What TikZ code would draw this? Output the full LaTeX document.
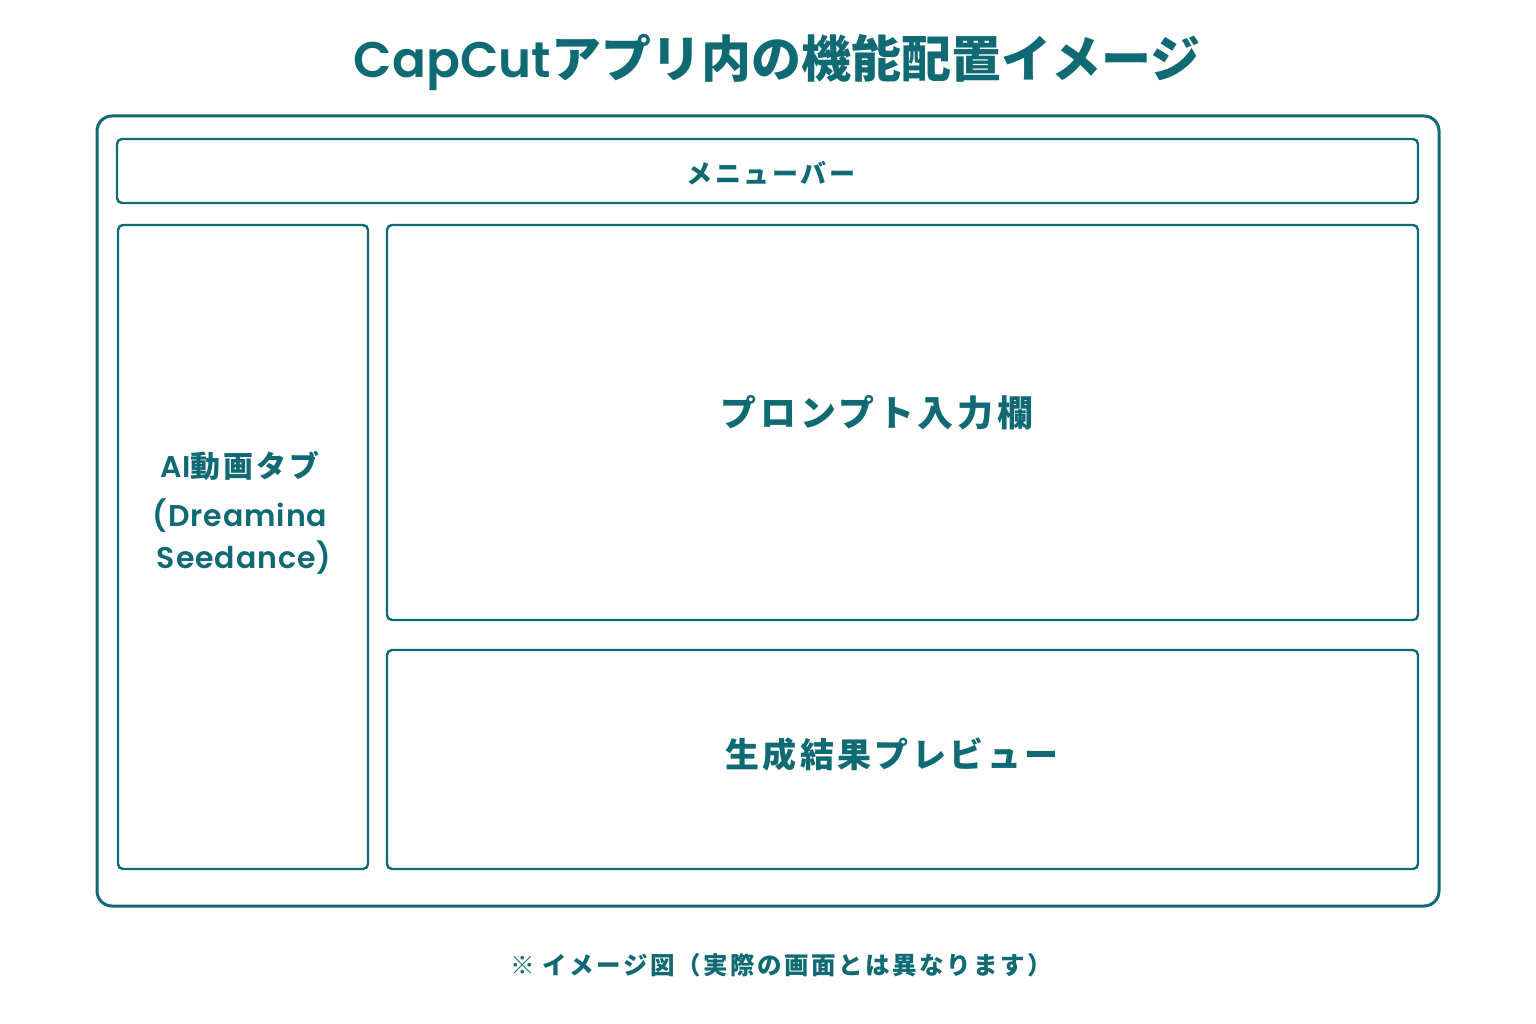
\documentclass[tikz,border=0pt]{standalone}
\usepackage{fontspec}
\setmainfont{Noto Sans CJK JP}
\newfontfamily\jpsp{Noto Sans CJK JP}[LetterSpace=10]
\newfontfamily\lat{Poppins}[BoldFont={Poppins SemiBold}]
\newfontfamily\latsp{Poppins}[LetterSpace=3, BoldFont={Poppins SemiBold}]
\usetikzlibrary{positioning}

\definecolor{teal}{RGB}{16,106,115}

\tikzset{
	frame/.style={draw=teal, line width=3pt, rounded corners=15pt},
	panel/.style={draw=teal, line width=2.4pt, rounded corners=5pt},
	label/.style={text=teal, inner sep=0pt, align=center},
}

\begin{document}
\begin{tikzpicture}[x=1pt,y=-1pt]
		\useasboundingbox[fill=white] (0,0) rectangle (1536,1024);
		\node[label, font=\fontsize{50}{60}\selectfont\bfseries] (heading) at (777,62) {{\lat CapCut}アプリ内の機能配置イメージ};
		\draw[frame] (97,116) rectangle (1439,906);
		\draw[panel] (117,139) rectangle (1418,203);
		\node[label, font=\fontsize{26}{30}\selectfont\jpsp\bfseries] (menubar) at (771,173) {メニューバー};
		\draw[panel] (118,225) rectangle (368,869);
		\node[label, font=\fontsize{30}{46}\selectfont\jpsp\bfseries] (aitab) at (240,513)
			{{\latsp\bfseries AI}動画タブ\\[3pt]{\latsp\bfseries (Dreamina}\\[-4pt]{\latsp\bfseries\ Seedance)}};
		\draw[panel] (387,225) rectangle (1418,620);
		\node[label, font=\fontsize{36}{44}\selectfont\jpsp\bfseries] (prompt) at (877,413) {プロンプト入力欄};
		\draw[panel] (387,650) rectangle (1418,869);
		\node[label, font=\fontsize{34}{44}\selectfont\jpsp\bfseries] (preview) at (892,755) {生成結果プレビュー};
		\node[label, font=\fontsize{24.5}{30}\selectfont\jpsp\bfseries] (note) at (781,965) {※\ イメージ図（実際の画面とは異なります）};
	\end{tikzpicture}
\end{document}
